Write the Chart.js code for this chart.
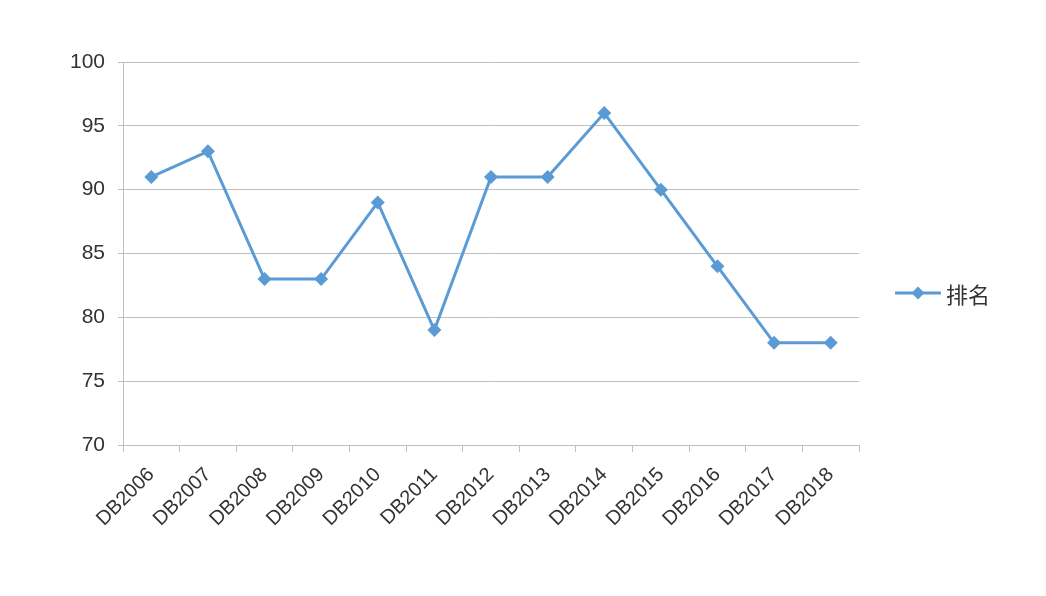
<!DOCTYPE html>
<html><head><meta charset="utf-8">
<script src="https://cdn.jsdelivr.net/npm/chart.js@4"></script>
<style>
html,body{margin:0;padding:0;background:#fff;}
#wrap{position:relative;width:1046px;height:596px;}
#legend{position:absolute;left:895px;top:277px;display:flex;align-items:center;font-family:"Noto Sans CJK SC","Noto Sans",sans-serif;font-size:22px;color:#333;}
#legend canvas{margin-right:5px;}
</style></head>
<body>
<div id="wrap"><canvas id="c" width="1046" height="596"></canvas>
<div id="legend"><canvas id="lg" width="46" height="20"></canvas><span id="lgText"></span></div></div>
<script>
const categories = ["DB2006","DB2007","DB2008","DB2009","DB2010","DB2011","DB2012","DB2013","DB2014","DB2015","DB2016","DB2017","DB2018"];
const rankValues = [91,93,83,83,89,79,91,91,96,90,84,78,78];
const seriesName = "排名";
const yTicks = [70,75,80,85,90,95,100];

const color = "#5B9BD5";
const font = '"Liberation Sans","Noto Sans CJK SC",sans-serif';

// legend
document.getElementById('lgText').textContent = seriesName;
const lg = document.getElementById('lg').getContext('2d');
lg.strokeStyle = color; lg.lineWidth = 3;
lg.beginPath(); lg.moveTo(0,10); lg.lineTo(46,10); lg.stroke();
lg.fillStyle = color; lg.beginPath();
lg.moveTo(23,3.5); lg.lineTo(29.5,10); lg.lineTo(23,16.5); lg.lineTo(16.5,10); lg.closePath(); lg.fill();

new Chart(document.getElementById('c'), {
  type: 'line',
  data: {
    labels: categories,
    datasets: [{
      label: seriesName,
      data: rankValues,
      borderColor: color,
      backgroundColor: color,
      borderWidth: 3,
      pointStyle: 'rectRot',
      pointRadius: 7,
      pointHoverRadius: 7,
      pointBorderWidth: 0,
      tension: 0
    }]
  },
  options: {
    responsive: false,
    animation: false,
    layout: { padding: { left: 0, right: 187, top: 62, bottom: 0 } },
    plugins: { legend: { display: false }, tooltip: { enabled: false } },
    scales: {
      x: {
        offset: true,
        grid: { offset: true, drawOnChartArea: false, color: '#BFBFBF', tickLength: 7, lineWidth: 1 },
        border: { color: '#BFBFBF', width: 1 },
        ticks: { color: '#333', font: { family: font, size: 20 }, maxRotation: 45, minRotation: 45, padding: 11, autoSkip: false },
        afterFit: s => { s.height = 151; }
      },
      y: {
        min: 70, max: 100,
        afterBuildTicks: s => { s.ticks = yTicks.map(v => ({ value: v })); },
        grid: { color: '#BFBFBF', tickLength: 5, lineWidth: 1 },
        border: { color: '#BFBFBF', width: 1 },
        ticks: { color: '#333', font: { family: font, size: 21 }, padding: 13 },
        afterFit: s => { s.width = 123; }
      }
    }
  }
});
</script>
</body></html>
